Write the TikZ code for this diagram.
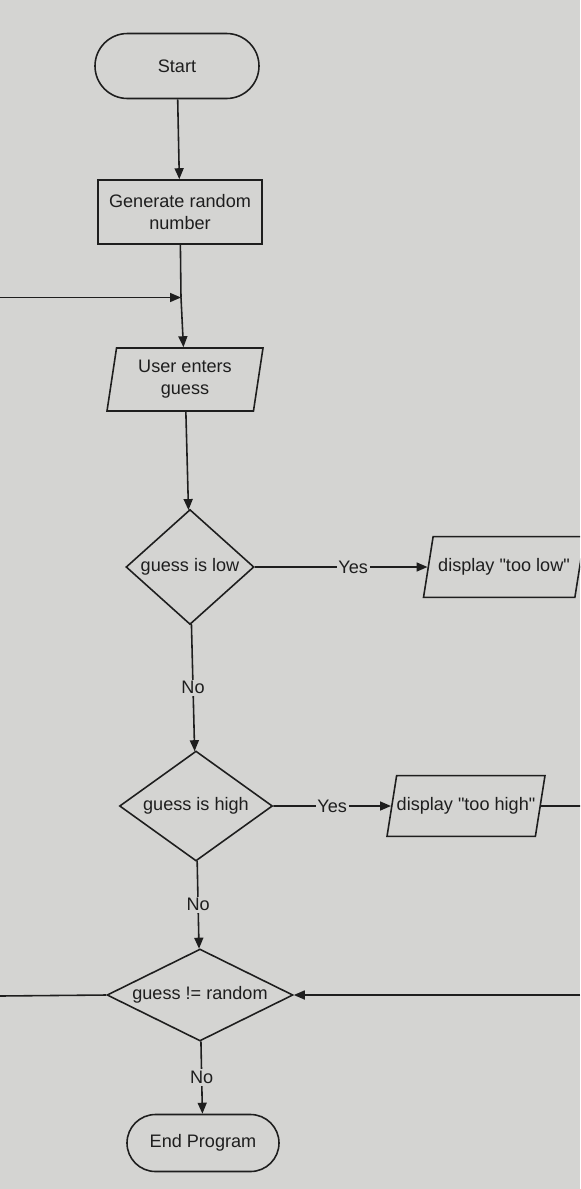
\documentclass[tikz,border=0pt]{standalone}
\usepackage{fontspec}
\setmainfont{Liberation Sans}
\usetikzlibrary{arrows.meta,shapes.geometric,shapes.misc,positioning}
\definecolor{fondo}{RGB}{212,212,210}
\definecolor{tinta}{RGB}{30,30,30}

\begin{document}
\begin{tikzpicture}[
        base/.style={draw=tinta,line width=0.9pt,text=tinta,
                     font=\fontsize{10.3}{12.5}\selectfont,align=center,inner sep=0pt},
        term/.style={base,rounded rectangle},
        proc/.style={base,rectangle},
        io/.style={base,trapezium,trapezium left angle=81,trapezium right angle=99,
                   trapezium stretches body=true},
        dec/.style={base,diamond},
        linea/.style={draw=tinta,line width=0.9pt},
        flecha/.style={linea,-{Triangle[length=2.2mm,width=1.8mm]}},
        etiq/.style={fill=fondo,text=tinta,font=\fontsize{10.3}{12}\selectfont,inner sep=1pt}]
        \useasboundingbox (0,0) rectangle (11.6,-23.78);
        \clip (0,0) rectangle (11.6,-23.78);
        \fill[fondo] (0,0) rectangle (11.6,-23.78);
        % nodos
        \node[term,minimum width=3.28cm,minimum height=1.3cm]
          (start) at (3.54,-1.32) {Start};
        \node[proc,minimum width=3.28cm,minimum height=1.28cm]
          (gen) at (3.60,-4.24) {Generate random\\number};
        \coordinate (jn) at (3.62,-5.95);
        \coordinate (lin) at (0,-5.95);
        \node[io,inner ysep=0.22cm,minimum width=3.12cm,minimum height=1.26cm]
          (user) at (3.70,-7.59) {User enters\\guess};
        \node[dec,aspect=1.11,minimum width=2.56cm,minimum height=2.30cm]
          (low) at (3.80,-11.34) {guess is low};
        \node[io,inner ysep=0.44cm,minimum width=3.22cm,minimum height=1.18cm]
          (toolow) at (10.08,-11.34) {display \textquotedbl too low\textquotedbl};
        \node[dec,aspect=1.39,minimum width=3.06cm,minimum height=2.2cm]
          (high) at (3.92,-16.12) {guess is high};
        \node[io,inner ysep=0.44cm,minimum width=3.16cm,minimum height=1.16cm]
          (toohigh) at (9.32,-16.12) {display \textquotedbl too high\textquotedbl};
        \coordinate (rhigh) at (11.6,-16.12);
        \node[dec,aspect=2.02,minimum width=3.72cm,minimum height=1.84cm]
          (neq) at (4.00,-19.90) {guess != random};
        \coordinate (lneq) at (0,-19.92);
        \coordinate (rneq) at (11.6,-19.90);
        \node[term,minimum width=3.04cm,minimum height=1.14cm]
          (fin) at (4.06,-22.86) {End Program};
        % conectores
        \draw[flecha] (start)--(gen);
        \draw[linea] (gen)--(jn);
        \draw[flecha] (lin)--(jn);
        \draw[flecha] (jn)--(user);
        \draw[flecha] (user)--(low);
        \draw[flecha] (low.east)--node[etiq,pos=0.57]{Yes}(toolow.west);
        \draw[linea] (toolow.east)--++(0.3,0);
        \draw[flecha] (low)--node[etiq]{No}(high);
        \draw[flecha] (high.east)--node[etiq]{Yes}(toohigh.west);
        \draw[linea] (toohigh.east)--(rhigh);
        \draw[flecha] (high)--node[etiq]{No}(neq);
        \draw[linea] (neq.west)--(lneq);
        \draw[flecha] (rneq)--(neq.east);
        \draw[flecha] (neq)--node[etiq]{No}(fin);
      \end{tikzpicture}
\end{document}
